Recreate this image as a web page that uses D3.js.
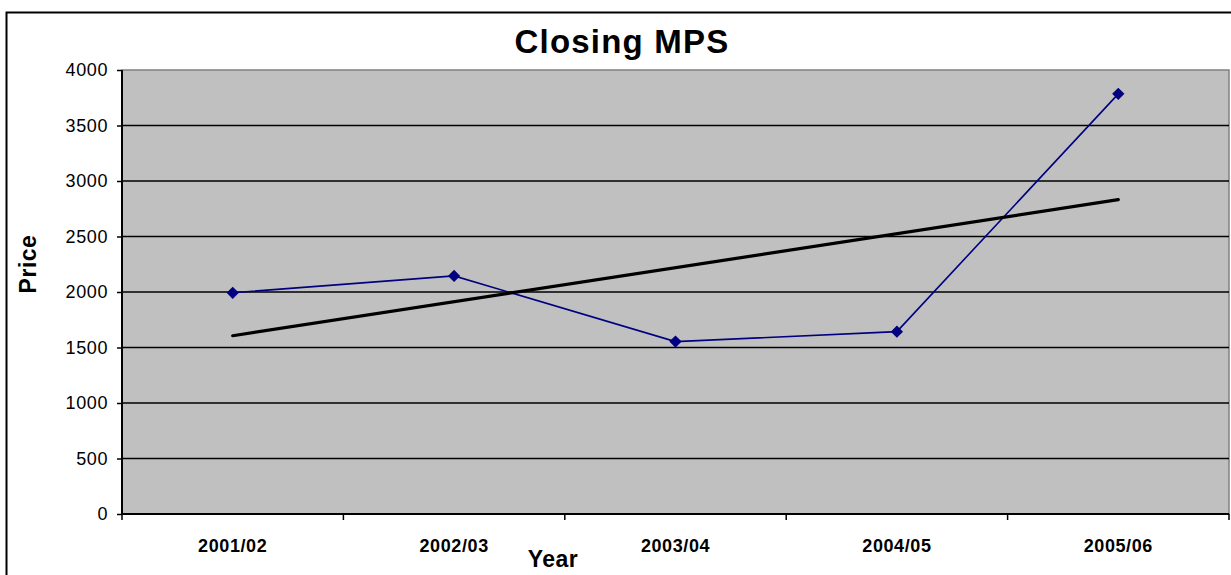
<!DOCTYPE html>
<html><head><meta charset="utf-8">
<script src="https://cdn.jsdelivr.net/npm/d3@7"></script>
<style>body{margin:0;background:#fff;}svg{display:block;font-family:"Liberation Sans",Arial,sans-serif;}</style>
</head><body><svg id="c" width="1231" height="575"></svg>
<script>
const categories = ["2001/02","2002/03","2003/04","2004/05","2005/06"];
const prices = [1993, 2145, 1553, 1643, 3785];
const trendCats = ["2001/02","2005/06"];
const trendValues = [1606, 2832];
const yTicks = [0,500,1000,1500,2000,2500,3000,3500,4000];

const svg = d3.select("#c");
const L=122, R=1229, T=70, B=514;
const FF = "Liberation Sans, Arial, sans-serif";

svg.append("rect").attr("x",6.5).attr("y",12.5).attr("width",1240).attr("height",600)
  .attr("fill","#fff").attr("stroke","#000").attr("stroke-width",2);

const x = d3.scaleBand().domain(categories).range([L,R]);
const y = d3.scaleLinear().domain([0,4000]).range([B,T]);
const cx = c => x(c)+x.bandwidth()/2;

svg.append("rect").attr("x",L).attr("y",T).attr("width",R-L).attr("height",B-T)
  .attr("fill","#c0c0c0").attr("stroke","#808080").attr("stroke-width",1.5);

svg.append("g").selectAll("line").data(yTicks.filter(d=>d>0&&d<4000)).join("line")
  .attr("x1",L).attr("x2",R).attr("y1",d=>y(d)).attr("y2",d=>y(d))
  .attr("stroke","#000").attr("stroke-width",1.5);

const ya = svg.append("g").attr("transform",`translate(${L},0)`)
  .call(d3.axisLeft(y).tickValues(yTicks).tickSize(5).tickPadding(9).tickFormat(d3.format("d")));
ya.select(".domain").attr("stroke","#000").attr("stroke-width",2).attr("d",`M0,${T}V${B}`);
ya.selectAll(".tick line").attr("stroke","#000").attr("stroke-width",1.5);
ya.selectAll("text").attr("font-size",18).attr("letter-spacing",0.6).attr("fill","#000").attr("font-family",FF);

const xa = svg.append("g").attr("transform",`translate(0,${B})`)
  .call(d3.axisBottom(x).tickSize(0).tickPadding(22));
xa.select(".domain").attr("stroke","#000").attr("stroke-width",2).attr("d",`M${L},0H${R}`);
xa.selectAll("text").attr("y",38).attr("dy",0).attr("font-size",18).attr("letter-spacing",0.6)
  .attr("font-weight","bold").attr("fill","#000").attr("font-family",FF);
xa.selectAll(".bd").data(categories.concat(["end"])).join("line")
  .attr("x1",(d,i)=>i<categories.length?x(d):R).attr("x2",(d,i)=>i<categories.length?x(d):R)
  .attr("y1",0).attr("y2",6).attr("stroke","#000").attr("stroke-width",1.5);

svg.append("path").datum(prices)
  .attr("d",d3.line().x((d,i)=>cx(categories[i])).y(d=>y(d)))
  .attr("fill","none").attr("stroke","#000080").attr("stroke-width",1.6);

svg.append("path").datum(trendValues)
  .attr("d",d3.line().x((d,i)=>cx(trendCats[i])).y(d=>y(d)))
  .attr("fill","none").attr("stroke","#000").attr("stroke-width",3.2).attr("stroke-linecap","round");

svg.append("g").selectAll("path").data(prices).join("path")
  .attr("d",d3.symbol().type(d3.symbolDiamond2).size(96))
  .attr("transform",(d,i)=>`translate(${cx(categories[i])},${y(d)})`)
  .attr("fill","#000080");

svg.append("text").attr("x",622).attr("y",53).attr("text-anchor","middle")
  .attr("font-size",33).attr("letter-spacing",1.2).attr("font-weight","bold").text("Closing MPS");
svg.append("text").attr("x",553).attr("y",567).attr("text-anchor","middle")
  .attr("font-size",23).attr("letter-spacing",0.5).attr("font-weight","bold").text("Year");
svg.append("text").attr("transform","translate(36,264) rotate(-90)").attr("text-anchor","middle")
  .attr("font-size",23).attr("letter-spacing",0.5).attr("font-weight","bold").text("Price");
</script></body></html>
